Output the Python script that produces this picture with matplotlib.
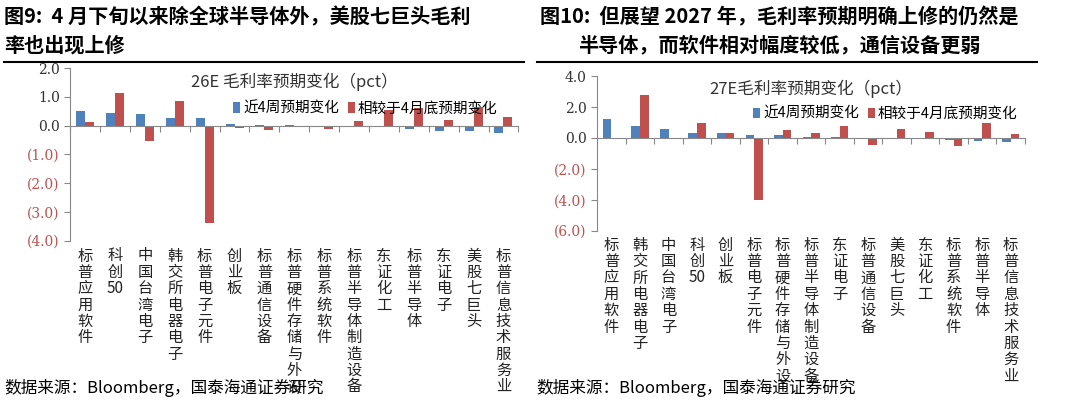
import matplotlib.pyplot as plt
import matplotlib.transforms as mtransforms
from matplotlib.ticker import FuncFormatter
import numpy as np

plt.rcParams['font.family'] = ['Noto Sans CJK SC', 'DejaVu Sans']

cats_l = ["标普应用软件", "科创50", "中国台湾电子", "韩交所电器电子", "标普电子元件", "创业板",
          "标普通信设备", "标普硬件存储与外设", "标普系统软件", "标普半导体制造设备", "东证化工",
          "标普半导体", "东证电子", "美股七巨头", "标普信息技术服务业"]
blue_l = [0.5, 0.45, 0.4, 0.27, 0.25, 0.05, 0.02, 0.01, 0.0, 0.0, -0.02, -0.12, -0.18, -0.18, -0.25]
red_l = [0.12, 1.13, -0.52, 0.85, -3.38, -0.08, -0.15, -0.01, -0.1, 0.15, 0.55, 0.62, 0.18, 0.65, 0.3]

cats_r = ["标普应用软件", "韩交所电器电子", "中国台湾电子", "科创50", "创业板", "标普电子元件",
          "标普硬件存储与外设", "标普半导体制造设备", "东证电子", "标普通信设备", "美股七巨头",
          "东证化工", "标普系统软件", "标普半导体", "标普信息技术服务业"]
blue_r = [1.2, 0.8, 0.6, 0.3, 0.3, 0.2, 0.2, 0.05, 0.03, 0.0, 0.0, 0.0, -0.15, -0.2, -0.28]
red_r = [0.0, 2.75, -0.1, 0.95, 0.35, -4.0, 0.5, 0.3, 0.75, -0.45, 0.6, 0.4, -0.55, 1.0, 0.25]

BLUE = "#4f81bd"
RED = "#c0504d"

fig = plt.figure(figsize=(10.8, 4.01), dpi=100)


def fmt(v, pos):
    return f"({abs(v):.1f})" if v < 0 else f"{v:.1f}"


def vertical(c):
    # keep "50" together, stack the other characters
    parts = []
    for ch in c:
        if ch.isdigit() and parts and parts[-1].isdigit():
            parts[-1] += ch
        else:
            parts.append(ch)
    return "\n".join(parts)


def panel(rect, cats, blue, red, ylim, step, title, legx):
    ax = fig.add_axes(rect)
    x = np.arange(len(cats))
    w = 0.3
    ax.bar(x - w / 2, blue, w, color=BLUE)
    ax.bar(x + w / 2, red, w, color=RED)
    ax.set_xlim(-0.5, len(cats) - 0.5)
    ax.set_ylim(*ylim)
    ax.set_yticks(np.arange(ylim[0], ylim[1] + 0.01, step))
    ax.yaxis.set_major_formatter(FuncFormatter(fmt))
    ax.tick_params(axis='y', labelsize=10, length=4, color='#888888')
    for t, v in zip(ax.get_yticklabels(), ax.get_yticks()):
        t.set_color(RED if v < 0 else '#333333')
        t.set_family(['DejaVu Serif'])
    ax.spines['top'].set_visible(False)
    ax.spines['right'].set_visible(False)
    ax.spines['bottom'].set_position(('data', 0))
    ax.spines['left'].set_color('#888888')
    ax.spines['bottom'].set_color('#888888')
    ax.set_xticks(np.arange(-0.5, len(cats), 1))
    ax.set_xticklabels([])
    ax.tick_params(axis='x', direction='out', length=4, color='#888888')
    tr = mtransforms.blended_transform_factory(ax.transData, ax.transAxes)
    for i, c in enumerate(cats):
        ax.text(i, -0.04, vertical(c), transform=tr, ha='center', va='top',
                fontsize=11, linespacing=0.95, color='#222222')
    ax.text(0.5, 0.92, title, transform=ax.transAxes, ha='center', va='center', fontsize=12, color='#333333')
    ax.legend(["近4周预期变化", "相较于4月底预期变化"], loc='upper left', bbox_to_anchor=(legx, 0.84),
              frameon=False, fontsize=10.5, handlelength=0.5, handletextpad=0.2, columnspacing=0.6,
              ncol=2, borderaxespad=0)
    return ax


panel([0.065, 0.4, 0.415, 0.43], cats_l, blue_l, red_l, (-4, 2), 1.0, "26E 毛利率预期变化（pct）", 0.35)
panel([0.553, 0.425, 0.396, 0.385], cats_r, blue_r, red_r, (-6, 4), 2.0, "27E毛利率预期变化（pct）", 0.35)

fig.text(0.004, 0.985, "图9:  4 月下旬以来除全球半导体外，美股七巨头毛利", fontsize=14.5, fontweight='bold', va='top')
fig.text(0.004, 0.915, "率也出现上修", fontsize=14.5, fontweight='bold', va='top')
fig.text(0.5, 0.985, "图10:  但展望 2027 年，毛利率预期明确上修的仍然是", fontsize=14.5, fontweight='bold', va='top')
fig.text(0.535, 0.915, "半导体，而软件相对幅度较低，通信设备更弱", fontsize=14.5, fontweight='bold', va='top')
fig.add_artist(plt.Line2D([0.004, 0.485], [0.845, 0.845], color='black', lw=1.5, transform=fig.transFigure))
fig.add_artist(plt.Line2D([0.497, 0.96], [0.845, 0.845], color='black', lw=1.5, transform=fig.transFigure))
fig.text(0.004, 0.01, "数据来源：Bloomberg，国泰海通证券研究", fontsize=12, va='bottom')
fig.text(0.497, 0.01, "数据来源：Bloomberg，国泰海通证券研究", fontsize=12, va='bottom')

fig.savefig("out.png", dpi=100)
